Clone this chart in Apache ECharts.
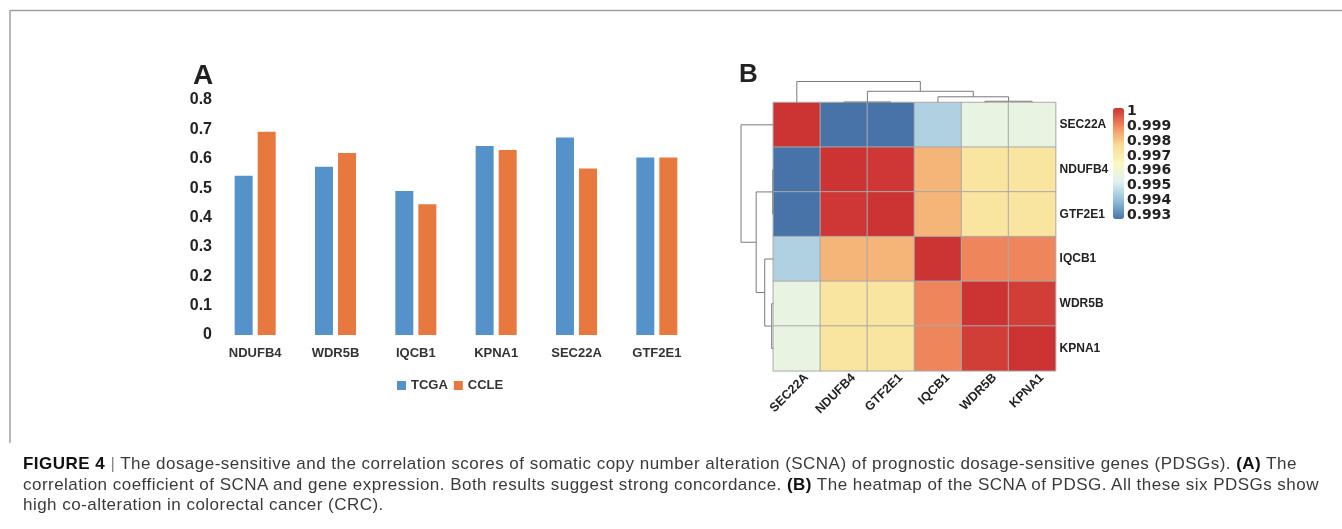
<!DOCTYPE html>
<html>
<head>
<meta charset="utf-8">
<script src="https://cdn.jsdelivr.net/npm/echarts@6/dist/echarts.min.js"></script>
<style>
  html, body { margin: 0; padding: 0; background: #fff; }
  #wrap { position: relative; width: 1342px; height: 529px; }
  #chart { width: 1342px; height: 529px; }
  #caption {
    position: absolute; left: 23px; top: 454px;
    font-family: "Liberation Sans", Arial, sans-serif; font-size: 17px;
    line-height: 20.7px; letter-spacing: 0.47px; color: #3a3a3a; white-space: pre;
  }
  #caption b { color: #111; }
  #caption .sep { color: #888; }
</style>
</head>
<body>
<div id="wrap">
  <div id="chart"></div>
  <div id="caption"><div><b>FIGURE 4</b> <span class="sep">|</span> The dosage-sensitive and the correlation scores of somatic copy number alteration (SCNA) of prognostic dosage-sensitive genes (PDSGs). <b>(A)</b> The</div><div>correlation coefficient of SCNA and gene expression. Both results suggest strong concordance. <b>(B)</b> The heatmap of the SCNA of PDSG. All these six PDSGs show</div><div>high co-alteration in colorectal cancer (CRC).</div></div>
</div>
<script>
// panel A: correlation of SCNA and expression
var categories = ["NDUFB4", "WDR5B", "IQCB1", "KPNA1", "SEC22A", "GTF2E1"];
var tcga = [0.542, 0.573, 0.49, 0.643, 0.672, 0.604];
var ccle = [0.692, 0.62, 0.445, 0.63, 0.567, 0.604];

// panel B: heatmap, rows/cols in clustered order
var genes = ["SEC22A", "NDUFB4", "GTF2E1", "IQCB1", "WDR5B", "KPNA1"];
var rowSEC22A = [1, 0.9929, 0.9929, 0.99452, 0.99568, 0.99568];
var rowNDUFB4 = [0.9929, 1, 0.99995, 0.99821, 0.9973, 0.9973];
var rowGTF2E1 = [0.9929, 0.99995, 1, 0.99821, 0.9973, 0.9973];
var rowIQCB1 = [0.99452, 0.99821, 0.99821, 1, 0.9989, 0.9989];
var rowWDR5B = [0.99568, 0.9973, 0.9973, 0.9989, 1, 0.99985];
var rowKPNA1 = [0.99568, 0.9973, 0.9973, 0.9989, 0.99985, 1];
var colorTicks = [0.993, 0.994, 0.995, 0.996, 0.997, 0.998, 0.999, 1];

// dendrogram merges (same tree for rows and columns)
var dendroLeft = ["NDUFB4", "WDR5B", "IQCB1", "m1", "SEC22A"];
var dendroRight = ["GTF2E1", "KPNA1", "m2", "m3", "m4"];
var dendroHeight = [0.015, 0.05, 0.265, 0.53, 1];

var matrix = [rowSEC22A, rowNDUFB4, rowGTF2E1, rowIQCB1, rowWDR5B, rowKPNA1];
var heatData = [];
matrix.forEach(function (row, r) {
  row.forEach(function (v, c) {
    heatData.push([c, r, v]);
  });
});

// build dendrogram segments
var nodePos = {}, nodeH = {};
genes.forEach(function (g, i) { nodePos[g] = i; nodeH[g] = 0; });
var dendroData = [];
dendroHeight.forEach(function (h, i) {
  var a = dendroLeft[i], b = dendroRight[i];
  dendroData.push([nodePos[a], nodePos[b], nodeH[a], nodeH[b], h]);
  nodePos["m" + (i + 1)] = (nodePos[a] + nodePos[b]) / 2;
  nodeH["m" + (i + 1)] = h;
});

function dendroItem(vertical) {
  return function (params, api) {
    var pt = function (p, h) {
      return vertical ? api.coord([p, h]) : api.coord([h, p]);
    };
    var xL = api.value(0), xR = api.value(1);
    var h = api.value(4);
    return {
      type: "polyline",
      shape: { points: [pt(xL, api.value(2)), pt(xL, h), pt(xR, h), pt(xR, api.value(3))] },
      style: { stroke: "#7a7a7a", lineWidth: 1, fill: null }
    };
  };
}

var boldFont = "Liberation Sans";
var hidden = { show: false };

var chart = echarts.init(document.getElementById("chart"));
var option = {
  animation: false,
  legend: {
    data: ["TCGA", "CCLE"],
    left: 392,
    top: 374,
    itemWidth: 9,
    itemHeight: 9,
    itemGap: 6,
    icon: "rect",
    textStyle: { fontFamily: boldFont, fontWeight: "bold", fontSize: 13, color: "#333" }
  },
  grid: [
    { left: 215, top: 100, width: 482, height: 235 },
    { left: 773.3, top: 102.5, width: 282.3, height: 268.3 },
    { left: 773.3, top: 81.5, width: 282.3, height: 20.8 },
    { left: 741, top: 102.5, width: 32.3, height: 268.3 },
    { left: 1113, top: 111.7, width: 11, height: 103.3 },
    // column labels, nudged right like pheatmap's rotated labels
    { left: 783, top: 102.5, width: 282.3, height: 268.3 }
  ],
  xAxis: [
    {
      gridIndex: 0, type: "category", data: categories,
      axisLine: hidden, axisTick: hidden,
      axisLabel: { margin: 12, fontFamily: boldFont, fontWeight: "bold", fontSize: 13, color: "#333" }
    },
    {
      gridIndex: 1, type: "category", data: genes,
      axisLine: hidden, axisTick: hidden, splitArea: hidden, axisLabel: hidden
    },
    { gridIndex: 2, type: "value", min: -0.5, max: 5.5, show: false },
    { gridIndex: 3, type: "value", min: 0, max: 1, inverse: true, show: false },
    { gridIndex: 4, type: "value", min: 0, max: 1, show: false },
    {
      gridIndex: 5, type: "category", data: genes,
      axisLine: hidden, axisTick: hidden, splitLine: hidden,
      axisLabel: { rotate: 45, margin: 5, fontFamily: boldFont, fontWeight: "bold", fontSize: 12.5, color: "#222" }
    }
  ],
  yAxis: [
    {
      gridIndex: 0, type: "value", min: 0, max: 0.8, interval: 0.1,
      axisLine: hidden, axisTick: hidden, splitLine: hidden,
      axisLabel: {
        margin: 3, fontFamily: boldFont, fontWeight: "bold", fontSize: 16, color: "#222",
        formatter: function (v) { return v === 0 ? "0" : v.toFixed(1); }
      }
    },
    {
      gridIndex: 1, type: "category", data: genes, inverse: true, position: "right",
      axisLine: hidden, axisTick: hidden,
      axisLabel: { margin: 4, fontFamily: boldFont, fontWeight: "bold", fontSize: 12, color: "#222" }
    },
    { gridIndex: 2, type: "value", min: 0, max: 1, show: false },
    { gridIndex: 3, type: "value", min: -0.5, max: 5.5, inverse: true, show: false },
    {
      gridIndex: 4, type: "value", min: colorTicks[0], max: colorTicks[colorTicks.length - 1], interval: 0.001,
      position: "right",
      axisLine: hidden, axisTick: hidden, splitLine: hidden,
      axisLabel: {
        margin: 3, fontFamily: "DejaVu Sans", fontWeight: "bold", fontSize: 14, color: "#222",
        formatter: function (v) { return v >= 0.99995 ? "1" : v.toFixed(3); }
      }
    },
    { gridIndex: 5, type: "value", show: false }
  ],
  visualMap: {
    type: "continuous",
    seriesIndex: 2,
    min: 0.9929,
    max: 1,
    left: 1113,
    top: 108,
    padding: 0,
    itemWidth: 11,
    itemHeight: 111,
    calculable: false,
    inRange: { color: ["#4873a9", "#92bfd9", "#e0f1f2", "#fbf8c0", "#f8dd92", "#f28b5e", "#cc3333"] }
  },
  series: [
    {
      name: "TCGA", type: "bar", xAxisIndex: 0, yAxisIndex: 0, data: tcga,
      barWidth: 18, barGap: "28%", itemStyle: { color: "#5592c9" }
    },
    {
      name: "CCLE", type: "bar", xAxisIndex: 0, yAxisIndex: 0, data: ccle,
      barWidth: 18, barGap: "28%", itemStyle: { color: "#e7793f" }
    },
    {
      type: "heatmap", xAxisIndex: 1, yAxisIndex: 1, data: heatData,
      itemStyle: { borderColor: "#a9a9a9", borderWidth: 1 }
    },
    {
      type: "custom", xAxisIndex: 2, yAxisIndex: 2, data: dendroData,
      renderItem: dendroItem(true)
    },
    {
      type: "custom", xAxisIndex: 3, yAxisIndex: 3, data: dendroData,
      renderItem: dendroItem(false)
    }
  ],
  graphic: [
    { type: "line", shape: { x1: 10, y1: 10.5, x2: 1342, y2: 10.5 }, style: { stroke: "#a0a0a0", lineWidth: 1.5 } },
    { type: "line", shape: { x1: 10, y1: 10, x2: 10, y2: 443 }, style: { stroke: "#a0a0a0", lineWidth: 1.5 } },
    {
      type: "text", left: 193, top: 62,
      style: { text: "A", fontFamily: boldFont, fontWeight: "bold", fontSize: 28, fill: "#222" }
    },
    {
      type: "text", left: 739, top: 62,
      style: { text: "B", fontFamily: boldFont, fontWeight: "bold", fontSize: 26, fill: "#222" }
    }
  ]
};
chart.setOption(option);
</script>
</body>
</html>
